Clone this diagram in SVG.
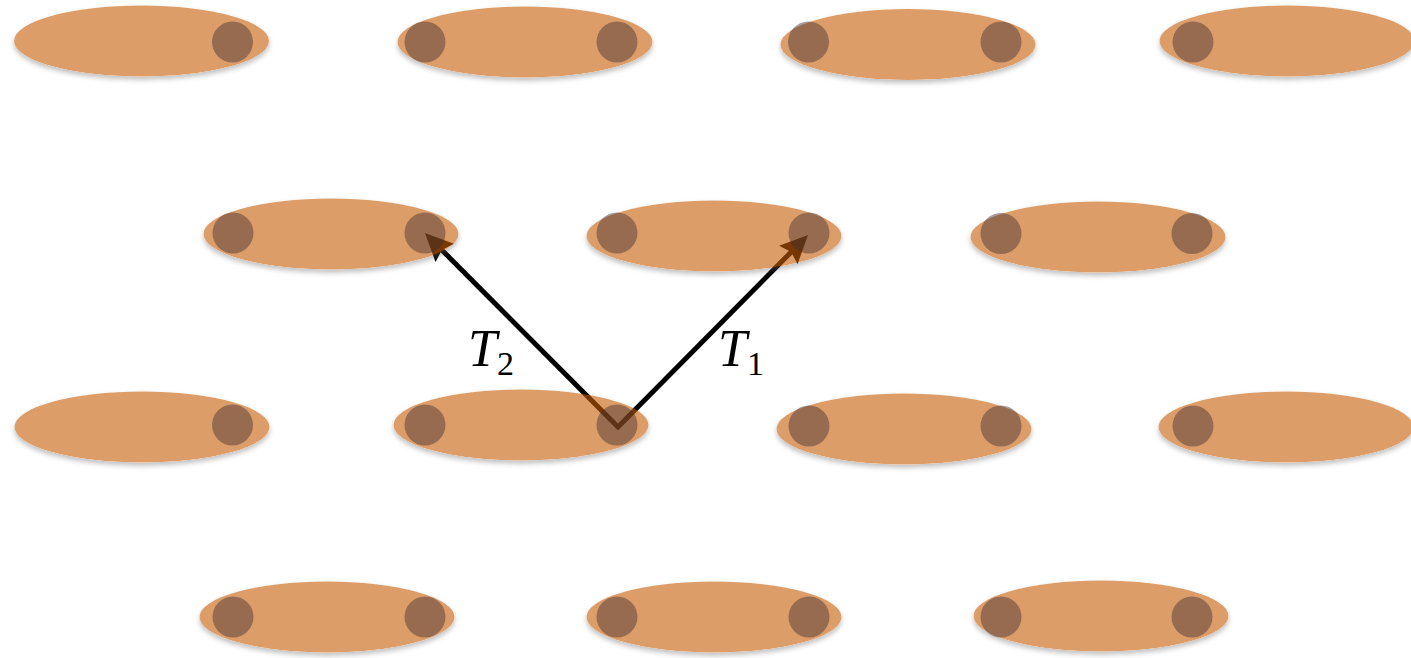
<svg xmlns="http://www.w3.org/2000/svg" width="1411" height="658" viewBox="0 0 1411 658">
<style>
.ell{fill:rgb(197,92,5);fill-opacity:0.6;filter:url(#sh)}
.dot{fill:rgb(64,46,49);fill-opacity:0.45}
.lbl{font-family:"Liberation Serif","DejaVu Serif",serif;fill:#000}
.it{font-style:italic;font-size:52px}
.sub{font-size:34px}
.arr{fill:none;stroke:#000;stroke-width:5;stroke-linejoin:miter;marker-start:url(#ah);marker-end:url(#ah)}
</style>
<defs>
<filter id="sh" x="-10%" y="-30%" width="120%" height="170%" color-interpolation-filters="sRGB">
<feComponentTransfer in="SourceAlpha" result="a"><feFuncA type="linear" slope="3"/></feComponentTransfer>
<feGaussianBlur in="a" stdDeviation="2.5" result="b"/>
<feOffset in="b" dy="3" result="o"/>
<feComposite in="o" in2="a" operator="out" result="c"/>
<feColorMatrix in="c" type="matrix" values="0 0 0 0 0.4 0 0 0 0 0.4 0 0 0 0 0.4 0 0 0 0.4 0" result="s"/>
<feMerge><feMergeNode in="s"/><feMergeNode in="SourceGraphic"/></feMerge>
</filter>
<marker id="ah" viewBox="0 0 28 26" refX="19" refY="13" markerWidth="28" markerHeight="26" markerUnits="userSpaceOnUse" orient="auto-start-reverse">
<path d="M0,0 L28,13 L0,26 L4,13 z" fill="#000"/>
</marker>
</defs>
<g id="connectors">
<polyline class="arr" points="431.3,239.4 618,427 801.7,241.4"/>
</g>
<g id="n1"><ellipse class="ell" cx="141.5" cy="41" rx="127.5" ry="35.5"/><circle class="dot" cx="232.5" cy="42" r="20.5"/></g>
<g id="n2"><ellipse class="ell" cx="525" cy="42" rx="127.5" ry="35.5"/><circle class="dot" cx="425" cy="42" r="20.5"/><circle class="dot" cx="617" cy="42" r="20.5"/></g>
<g id="n3"><ellipse class="ell" cx="908" cy="44.5" rx="127.5" ry="35.5"/><circle class="dot" cx="808.5" cy="42" r="20.5"/><circle class="dot" cx="1001" cy="42" r="20.5"/></g>
<g id="n4"><ellipse class="ell" cx="1287" cy="41" rx="127.5" ry="35.5"/><circle class="dot" cx="1193" cy="42" r="20.5"/></g>
<g id="n5"><ellipse class="ell" cx="331" cy="234" rx="127.5" ry="35.5"/><circle class="dot" cx="233" cy="233" r="20.5"/><circle class="dot" cx="425" cy="233" r="20.5"/></g>
<g id="n6"><ellipse class="ell" cx="714" cy="236" rx="127.5" ry="35.5"/><circle class="dot" cx="617" cy="233" r="20.5"/><circle class="dot" cx="809" cy="233" r="20.5"/></g>
<g id="n7"><ellipse class="ell" cx="1098" cy="237" rx="127.5" ry="35.5"/><circle class="dot" cx="1001" cy="233.5" r="20.5"/><circle class="dot" cx="1192" cy="233.5" r="20.5"/></g>
<g id="n8"><ellipse class="ell" cx="142" cy="427" rx="127.5" ry="35.5"/><circle class="dot" cx="232.5" cy="425" r="20.5"/></g>
<g id="n9"><ellipse class="ell" cx="521" cy="425" rx="127.5" ry="35.5"/><circle class="dot" cx="425" cy="425" r="20.5"/><circle class="dot" cx="617" cy="425" r="20.5"/></g>
<g id="n10"><ellipse class="ell" cx="904" cy="429" rx="127.5" ry="35.5"/><circle class="dot" cx="809" cy="426" r="20.5"/><circle class="dot" cx="1001" cy="426" r="20.5"/></g>
<g id="n11"><ellipse class="ell" cx="1286" cy="427" rx="127.5" ry="35.5"/><circle class="dot" cx="1193" cy="426" r="20.5"/></g>
<g id="n12"><ellipse class="ell" cx="327" cy="617" rx="127.5" ry="35.5"/><circle class="dot" cx="233" cy="617" r="20.5"/><circle class="dot" cx="425" cy="617" r="20.5"/></g>
<g id="n13"><ellipse class="ell" cx="714" cy="617" rx="127.5" ry="35.5"/><circle class="dot" cx="617" cy="617" r="20.5"/><circle class="dot" cx="809" cy="617" r="20.5"/></g>
<g id="n14"><ellipse class="ell" cx="1101" cy="616" rx="127.5" ry="35.5"/><circle class="dot" cx="1001" cy="617" r="20.5"/><circle class="dot" cx="1192" cy="617" r="20.5"/></g>
<g id="labels">
<text class="lbl" x="468" y="366"><tspan class="it">T</tspan><tspan class="sub" dy="9">2</tspan></text>
<text class="lbl" x="718" y="366"><tspan class="it">T</tspan><tspan class="sub" dy="9">1</tspan></text>
</g>
</svg>
